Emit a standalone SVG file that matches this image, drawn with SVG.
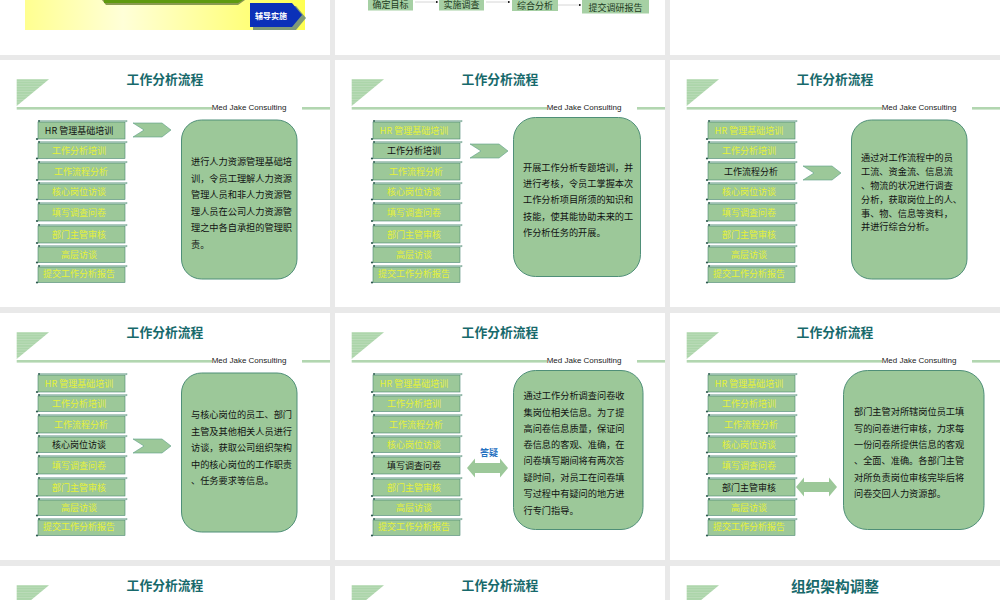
<svg xmlns="http://www.w3.org/2000/svg" width="1000" height="600" viewBox="0 0 1000 600">
<style>
text{font-family:"Noto Sans CJK SC","Liberation Sans",sans-serif}
.bg{fill:#e9e9e9}.sl{fill:#fff}
.ti{font-size:12.8px;font-weight:700;fill:#17696b;text-anchor:middle}
.co{font-family:"Liberation Sans",sans-serif;font-size:8px;fill:#222;text-anchor:middle}
.l{font-size:9px;text-anchor:middle;fill:#e6f238}
.a{fill:#111}
.bt{font-size:9.2px;fill:#111}
.bx{fill:#9cc899;stroke:#4f8f78;stroke-width:1}
.ar{fill:#9cc899;stroke:#5d9d88;stroke-width:.6}
.da{fill:#9cc899}
.to{font-size:9px;fill:#1c3a1c;text-anchor:middle}
.tb{fill:#a6d0a4}
.cn{stroke:#ccc;stroke-width:.8;fill:none;marker-end:url(#m)}
.bb{fill:#9cc899;stroke:#4a8672;stroke-width:.6}
.bs{fill:#b5d2c4;stroke:#4a8672;stroke-width:.3}
.bd{fill:#2c5a4e}
</style>
<defs>
<marker id="m" markerWidth="3" markerHeight="3" refX="2.5" refY="1.5" orient="auto"><path d="M0 0L3 1.5L0 3z" fill="#111"/></marker>
<linearGradient id="y" x1="0" x2="1" y1="0" y2="0"><stop offset="0" stop-color="#ffff90"/><stop offset=".35" stop-color="#ffffd8"/><stop offset="1" stop-color="#ffff50"/></linearGradient>
<pattern id="p" width="4" height="2.6" patternUnits="userSpaceOnUse"><rect width="4" height="2.6" fill="#acd5aa"/><rect width="4" height=".9" fill="#bcdcba"/></pattern>
<g id="hd">
<path d="M16.700 19.200H49L16.700 46z" fill="url(#p)"/>
<rect x="16.700" y="47" width="195.300" height="2.600" fill="#b2d6b0"/>
<rect x="302" y="47" width="28" height="2.600" fill="#b2d6b0"/>
<text class="co" x="249" y="50.200">Med Jake Consulting</text>
</g>
<g id="bt">
<rect class="bb" x="38" y="1" width="87" height="17"/>
<rect class="bs" x="39" y="-.500" width="88" height="1.400"/>
<circle class="bd" cx="37" cy="18" r="1.100"/>
<circle class="bd" cx="39" cy="0" r=".9"/>
</g>
<g id="bh">
<rect class="bb" x="38" y="1" width="87" height="15.500"/>
<rect class="bs" x="39" y="-.500" width="88" height="1.400"/>
<circle class="bd" cx="37" cy="16.500" r="1.100"/>
<circle class="bd" cx="39" cy="0" r=".9"/>
</g>
<path id="chev" class="ar" d="M133-7H162L171 0L162 7H133L144 0z"/>
<path id="dbl" class="da" d="M0 0L8-9.500V-5H33V-9.500L41 0L33 9.500V5H8V9.500z"/>
</defs>

<g id="background">
<rect class="bg" width="1000" height="600"/>
<rect class="sl" x="0" y="0" width="330" height="55"/><rect class="sl" x="335" y="0" width="330" height="55"/><rect class="sl" x="670" y="0" width="330" height="55"/>
<rect class="sl" x="0" y="60" width="330" height="247"/><rect class="sl" x="335" y="60" width="330" height="247"/><rect class="sl" x="670" y="60" width="330" height="247"/>
<rect class="sl" x="0" y="313" width="330" height="247"/><rect class="sl" x="335" y="313" width="330" height="247"/><rect class="sl" x="670" y="313" width="330" height="247"/>
<rect class="sl" x="0" y="566" width="330" height="34"/><rect class="sl" x="335" y="566" width="330" height="34"/><rect class="sl" x="670" y="566" width="330" height="34"/>
</g>

<g id="top-left">
<rect x="25" y="0" width="280" height="30" fill="url(#y)"/>
<path d="M102 0H245L238 5H106z" fill="#8a9a50"/>
<path d="M104 0H243L238 3H104z" fill="#5f9a10"/>
<path d="M253 6H296L306 18L296 30H253z" fill="#7f9a78"/>
<g id="node-fudao"><path d="M250 3H292L302 15L292 27H250z" fill="#0b30b8"/><text x="271" y="19" font-size="8" font-weight="700" fill="#fff" text-anchor="middle">辅导实施</text></g>
</g>

<g id="top-middle">
<g id="connectors-top"><path class="cn" d="M415 2H438"/><path class="cn" d="M486 2H510"/><path class="cn" d="M558 5H581"/></g>
<g id="n-goal"><rect class="tb" x="368" y="-2" width="45" height="12.500"/><text class="to" x="390.500" y="8">确定目标</text></g>
<g id="n-survey"><rect class="tb" x="439" y="-2" width="45" height="12.500"/><text class="to" x="461.500" y="8">实施调查</text></g>
<g id="n-analysis"><rect class="tb" x="512" y="-2" width="46" height="13"/><text class="to" x="535" y="8.800">综合分析</text></g>
<g id="n-report"><rect class="tb" x="582" y="-2" width="67" height="15.500"/><text class="to" x="615.500" y="10.500">提交调研报告</text></g>
</g>

<g id="slide-1" transform="translate(0,60)">
<use href="#hd"/><text class="ti" x="165" y="23.500">工作分析流程</text>
<g id="s1-list">
<g id="s1-i1"><use href="#bt" y="61"/><text class="l a" x="79" y="74.200">HR 管理基础培训</text></g>
<g id="s1-i2"><use href="#bh" y="82"/><text class="l" x="79" y="94.200">工作分析培训</text></g>
<g id="s1-i3"><use href="#bt" y="102"/><text class="l" x="81" y="115.200">工作流程分析</text></g>
<g id="s1-i4"><use href="#bh" y="123"/><text class="l" x="79" y="135.200">核心岗位访谈</text></g>
<g id="s1-i5"><use href="#bt" y="143"/><text class="l" x="79" y="156.200">填写调查问卷</text></g>
<g id="s1-i6"><use href="#bt" y="165"/><text class="l" x="79" y="178.200">部门主管审核</text></g>
<g id="s1-i7"><use href="#bh" y="186"/><text class="l" x="79" y="198.200">高层访谈</text></g>
<g id="s1-i8"><use href="#bh" y="206"/><text class="l" x="79" y="217.200">提交工作分析报告</text></g>
</g>
<use href="#chev" y="70"/>
<g id="s1-desc"><rect class="bx" x="181.500" y="60" width="115.500" height="159" rx="20"/>
<text class="bt" x="191" y="105.200">进行人力资源管理基础培</text><text class="bt" x="191" y="121.900">训，令员工理解人力资源</text><text class="bt" x="191" y="138.200">管理人员和非人力资源管</text><text class="bt" x="191" y="155.200">理人员在公司人力资源管</text><text class="bt" x="191" y="171.200">理之中各自承担的管理职</text><text class="bt" x="191" y="188.200">责。</text></g>
</g>

<g id="slide-2" transform="translate(335,60)">
<use href="#hd"/><text class="ti" x="165" y="23.500">工作分析流程</text>
<g id="s2-list">
<g id="s2-i1"><use href="#bt" y="61"/><text class="l" x="79" y="74.200">HR 管理基础培训</text></g>
<g id="s2-i2"><use href="#bh" y="82"/><text class="l a" x="79" y="94.200">工作分析培训</text></g>
<g id="s2-i3"><use href="#bt" y="102"/><text class="l" x="81" y="115.200">工作流程分析</text></g>
<g id="s2-i4"><use href="#bh" y="123"/><text class="l" x="79" y="135.200">核心岗位访谈</text></g>
<g id="s2-i5"><use href="#bt" y="143"/><text class="l" x="79" y="156.200">填写调查问卷</text></g>
<g id="s2-i6"><use href="#bt" y="165"/><text class="l" x="79" y="178.200">部门主管审核</text></g>
<g id="s2-i7"><use href="#bh" y="186"/><text class="l" x="79" y="198.200">高层访谈</text></g>
<g id="s2-i8"><use href="#bh" y="206"/><text class="l" x="79" y="217.200">提交工作分析报告</text></g>
</g>
<use href="#chev" x="2" y="91"/>
<g id="s2-desc"><rect class="bx" x="178.500" y="57.500" width="127" height="159" rx="22"/>
<text class="bt" x="188" y="110.500">开展工作分析专题培训，并</text><text class="bt" x="188" y="127.200">进行考核，令员工掌握本次</text><text class="bt" x="188" y="143.200">工作分析项目所须的知识和</text><text class="bt" x="188" y="159.700">技能，使其能协助未来的工</text><text class="bt" x="188" y="176.200">作分析任务的开展。</text></g>
</g>

<g id="slide-3" transform="translate(670,60)">
<use href="#hd"/><text class="ti" x="165" y="23.500">工作分析流程</text>
<g id="s3-list">
<g id="s3-i1"><use href="#bt" y="61"/><text class="l" x="79" y="74.200">HR 管理基础培训</text></g>
<g id="s3-i2"><use href="#bh" y="82"/><text class="l" x="79" y="94.200">工作分析培训</text></g>
<g id="s3-i3"><use href="#bt" y="102"/><text class="l a" x="81" y="115.200">工作流程分析</text></g>
<g id="s3-i4"><use href="#bh" y="123"/><text class="l" x="79" y="135.200">核心岗位访谈</text></g>
<g id="s3-i5"><use href="#bt" y="143"/><text class="l" x="79" y="156.200">填写调查问卷</text></g>
<g id="s3-i6"><use href="#bt" y="165"/><text class="l" x="79" y="178.200">部门主管审核</text></g>
<g id="s3-i7"><use href="#bh" y="186"/><text class="l" x="79" y="198.200">高层访谈</text></g>
<g id="s3-i8"><use href="#bh" y="206"/><text class="l" x="79" y="217.200">提交工作分析报告</text></g>
</g>
<use href="#chev" y="113"/>
<g id="s3-desc"><rect class="bx" x="181.500" y="60" width="115.500" height="159" rx="20"/>
<text class="bt" x="191" y="100.900">通过对工作流程中的员</text><text class="bt" x="191" y="114.900">工流、资金流、信息流</text><text class="bt" x="191" y="129.200">、物流的状况进行调查</text><text class="bt" x="191" y="143.200">分析，获取岗位上的人、</text><text class="bt" x="191" y="156.900">事、物、信息等资料，</text><text class="bt" x="191" y="170.200">并进行综合分析。</text></g>
</g>

<g id="slide-4" transform="translate(0,313)">
<use href="#hd"/><text class="ti" x="165" y="23.500">工作分析流程</text>
<g id="s4-list">
<g id="s4-i1"><use href="#bt" y="61"/><text class="l" x="79" y="74.200">HR 管理基础培训</text></g>
<g id="s4-i2"><use href="#bh" y="82"/><text class="l" x="79" y="94.200">工作分析培训</text></g>
<g id="s4-i3"><use href="#bt" y="102"/><text class="l" x="81" y="115.200">工作流程分析</text></g>
<g id="s4-i4"><use href="#bh" y="123"/><text class="l a" x="79" y="135.200">核心岗位访谈</text></g>
<g id="s4-i5"><use href="#bt" y="143"/><text class="l" x="79" y="156.200">填写调查问卷</text></g>
<g id="s4-i6"><use href="#bt" y="165"/><text class="l" x="79" y="178.200">部门主管审核</text></g>
<g id="s4-i7"><use href="#bh" y="186"/><text class="l" x="79" y="198.200">高层访谈</text></g>
<g id="s4-i8"><use href="#bh" y="206"/><text class="l" x="79" y="217.200">提交工作分析报告</text></g>
</g>
<use href="#chev" y="133"/>
<g id="s4-desc"><rect class="bx" x="181.500" y="60" width="115.500" height="159" rx="20"/>
<text class="bt" x="191" y="105.200">与核心岗位的员工、部门</text><text class="bt" x="191" y="121.900">主管及其他相关人员进行</text><text class="bt" x="191" y="138.200">访谈，获取公司组织架构</text><text class="bt" x="191" y="154.900">中的核心岗位的工作职责</text><text class="bt" x="191" y="171.200">、任务要求等信息。</text></g>
</g>

<g id="slide-5" transform="translate(335,313)">
<use href="#hd"/><text class="ti" x="165" y="23.500">工作分析流程</text>
<g id="s5-list">
<g id="s5-i1"><use href="#bt" y="61"/><text class="l" x="79" y="74.200">HR 管理基础培训</text></g>
<g id="s5-i2"><use href="#bh" y="82"/><text class="l" x="79" y="94.200">工作分析培训</text></g>
<g id="s5-i3"><use href="#bt" y="102"/><text class="l" x="81" y="115.200">工作流程分析</text></g>
<g id="s5-i4"><use href="#bh" y="123"/><text class="l" x="79" y="135.200">核心岗位访谈</text></g>
<g id="s5-i5"><use href="#bt" y="143"/><text class="l a" x="79" y="156.200">填写调查问卷</text></g>
<g id="s5-i6"><use href="#bt" y="165"/><text class="l" x="79" y="178.200">部门主管审核</text></g>
<g id="s5-i7"><use href="#bh" y="186"/><text class="l" x="79" y="198.200">高层访谈</text></g>
<g id="s5-i8"><use href="#bh" y="206"/><text class="l" x="79" y="217.200">提交工作分析报告</text></g>
</g>
<use href="#dbl" x="132" y="155"/>
<text x="154" y="142.500" font-size="9" font-weight="700" fill="#1f6fc0" text-anchor="middle">答疑</text>
<g id="s5-desc"><rect class="bx" x="178.500" y="57.500" width="129.500" height="159" rx="22"/>
<text class="bt" x="188.500" y="86.200">通过工作分析调查问卷收</text><text class="bt" x="188.500" y="102.700">集岗位相关信息。为了提</text><text class="bt" x="188.500" y="119.200">高问卷信息质量，保证问</text><text class="bt" x="188.500" y="135.200">卷信息的客观、准确，在</text><text class="bt" x="188.500" y="151.200">问卷填写期间将有两次答</text><text class="bt" x="188.500" y="168.200">疑时间，对员工在问卷填</text><text class="bt" x="188.500" y="184.200">写过程中有疑问的地方进</text><text class="bt" x="188.500" y="201.200">行专门指导。</text></g>
</g>

<g id="slide-6" transform="translate(670,313)">
<use href="#hd"/><text class="ti" x="165" y="23.500">工作分析流程</text>
<g id="s6-list">
<g id="s6-i1"><use href="#bt" y="61"/><text class="l" x="79" y="74.200">HR 管理基础培训</text></g>
<g id="s6-i2"><use href="#bh" y="82"/><text class="l" x="79" y="94.200">工作分析培训</text></g>
<g id="s6-i3"><use href="#bt" y="102"/><text class="l" x="81" y="115.200">工作流程分析</text></g>
<g id="s6-i4"><use href="#bh" y="123"/><text class="l" x="79" y="135.200">核心岗位访谈</text></g>
<g id="s6-i5"><use href="#bt" y="143"/><text class="l" x="79" y="156.200">填写调查问卷</text></g>
<g id="s6-i6"><use href="#bt" y="165"/><text class="l a" x="79" y="178.200">部门主管审核</text></g>
<g id="s6-i7"><use href="#bh" y="186"/><text class="l" x="79" y="198.200">高层访谈</text></g>
<g id="s6-i8"><use href="#bh" y="206"/><text class="l" x="79" y="217.200">提交工作分析报告</text></g>
</g>
<use href="#dbl" x="126" y="174"/>
<g id="s6-desc"><rect class="bx" x="173.500" y="57.500" width="140.500" height="159" rx="24"/>
<text class="bt" x="184" y="102.200">部门主管对所辖岗位员工填</text><text class="bt" x="184" y="118.700">写的问卷进行审核，力求每</text><text class="bt" x="184" y="135.200">一份问卷所提供信息的客观</text><text class="bt" x="184" y="151.200">、全面、准确。各部门主管</text><text class="bt" x="184" y="168.200">对所负责岗位审核完毕后将</text><text class="bt" x="184" y="184.200">问卷交回人力资源部。</text></g>
</g>

<g id="slide-7" transform="translate(0,566)"><use href="#hd"/><text class="ti" x="165" y="23.500">工作分析流程</text></g>
<g id="slide-8" transform="translate(335,566)"><use href="#hd"/><text class="ti" x="165" y="23.500">工作分析流程</text></g>
<g id="slide-9" transform="translate(670,566)"><use href="#hd"/><text class="ti" style="font-size:14.700px" x="165" y="26">组织架构调整</text></g>
</svg>
